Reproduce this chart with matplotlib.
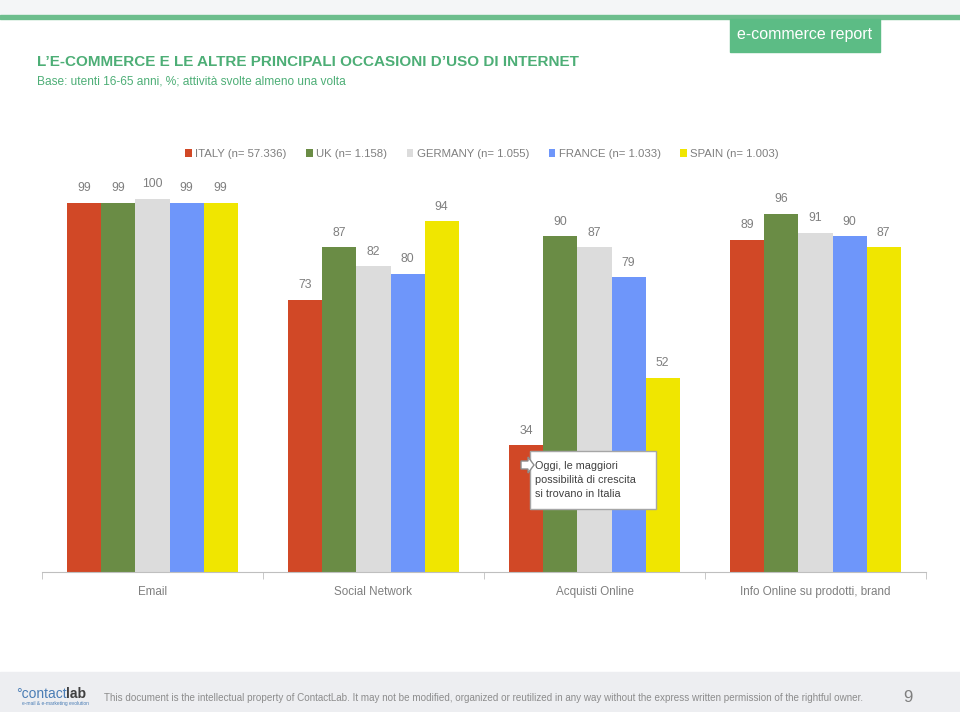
import matplotlib.pyplot as plt
import matplotlib.patches as mpatches
import numpy as np

plt.rcParams['font.family'] = ['Liberation Sans', 'DejaVu Sans']

categories = ['Email', 'Social Network', 'Acquisti Online', 'Info Online su prodotti, brand']
countries = ['ITALY (n= 57.336)', 'UK (n= 1.158)', 'GERMANY (n= 1.055)',
             'FRANCE (n= 1.033)', 'SPAIN (n= 1.003)']
italy = [99, 73, 34, 89]
uk = [99, 87, 90, 96]
germany = [100, 82, 87, 91]
france = [99, 80, 79, 90]
spain = [99, 94, 52, 87]
series = [italy, uk, germany, france, spain]
colors = ['#D14826', '#6A8C45', '#DCDCDC', '#6E96FA', '#F0E600']

W, H = 960, 712
fig = plt.figure(figsize=(W / 100, H / 100), dpi=100)


def fx(px):
    return px / W


def fy(py):
    return 1 - py / H


# header band and green rule
fig.patches.append(mpatches.Rectangle((0, fy(14)), 1, 14 / H, transform=fig.transFigure,
                                      color='#F4F6F7', zorder=0))
fig.patches.append(mpatches.Rectangle((0, fy(19)), 1, 4 / H, transform=fig.transFigure,
                                      color='#6DBE8D', zorder=1))
fig.patches.append(mpatches.Rectangle((fx(730), fy(52)), fx(150), 33 / H, transform=fig.transFigure,
                                      color='#5CBC85', zorder=1))
fig.text(fx(805), fy(35), 'e-commerce report', color='white', fontsize=11.5,
         ha='center', va='center')

fig.text(fx(37), fy(62), 'L\u2019E-COMMERCE E LE ALTRE PRINCIPALI OCCASIONI D\u2019USO DI INTERNET',
         color='#4DAE76', fontsize=11, fontweight='bold', va='center')
fig.text(fx(37), fy(82), 'Base: utenti 16-65 anni, %; attivit\u00e0 svolte almeno una volta',
         color='#4DAE76', fontsize=8.6, va='center')

# footer band
fig.patches.append(mpatches.Rectangle((0, 0), 1, 40 / H, transform=fig.transFigure,
                                      color='#EDEEF1', zorder=0))
fig.text(fx(104), fy(698), 'This document is the intellectual property of ContactLab. It may not be '
         'modified, organized or reutilized in any way without the express written permission of '
         'the rightful owner.', color='#8C8C8C', fontsize=7.1, va='center')
fig.text(fx(908), fy(697), '9', color='#7F7F7F', fontsize=12, va='center', ha='center')
fig.text(fx(16), fy(694), '\u00b0contact', color='#4A7DB5', fontsize=10, va='center')
fig.text(fx(66), fy(694), 'lab', color='#404040', fontsize=10, fontweight='bold', va='center')
fig.text(fx(22), fy(704), 'e-mail & e-marketing evolution', color='#4A7DB5', fontsize=3.5, va='center')

# chart
ylim_top = 110
ax = fig.add_axes([fx(42), fy(572), fx(884), 3.73 * ylim_top / H])
x = np.arange(len(categories))
bw = 0.154
for i, (vals, c, lab) in enumerate(zip(series, colors, countries)):
    xs = x + (i - 2) * bw
    ax.bar(xs, vals, width=bw, color=c, label=lab, zorder=2)
    for xi, v in zip(xs, vals):
        ax.text(xi, v + 2.3, str(v), ha='center', va='bottom', fontsize=8.8, color='#7F7F7F')

ax.set_xlim(-0.5, len(categories) - 0.5)
ax.set_ylim(0, ylim_top)
ax.set_yticks([])
for s in ['top', 'right', 'left']:
    ax.spines[s].set_visible(False)
ax.spines['bottom'].set_color('#BFBFBF')
ax.set_xticks(x)
ax.set_xticklabels(categories, fontsize=8.4, color='#7F7F7F')
ax.tick_params(axis='x', which='major', length=0, pad=10)
ax.set_xticks(np.arange(len(categories) + 1) - 0.5, minor=True)
ax.tick_params(axis='x', which='minor', length=5, color='#BFBFBF')

fig.legend(loc='center', bbox_to_anchor=(fx(482), fy(154)), ncol=5, frameon=False,
           fontsize=8.2, labelcolor='#7F7F7F', handlelength=0.6, handleheight=0.6,
           handletextpad=0.3, columnspacing=1.7)

# callout
fig.patches.append(mpatches.Rectangle((fx(530), fy(509)), fx(126), 58 / H, transform=fig.transFigure,
                                      facecolor='white', edgecolor='#A6A6A6', lw=1, zorder=5))
arrow = mpatches.Polygon([(fx(521), fy(461)), (fx(528), fy(461)), (fx(528), fy(457)),
                          (fx(534), fy(465)), (fx(528), fy(473)), (fx(528), fy(469)),
                          (fx(521), fy(469))], closed=True, transform=fig.transFigure,
                         facecolor='white', edgecolor='#8C8C8C', lw=1, zorder=6)
fig.patches.append(arrow)
fig.text(fx(535), fy(480), 'Oggi, le maggiori\npossibilit\u00e0 di crescita\nsi trovano in Italia',
         fontsize=7.8, color='#404040', va='center', ha='left', linespacing=1.45, zorder=7)

fig.savefig('out.png', dpi=100)
